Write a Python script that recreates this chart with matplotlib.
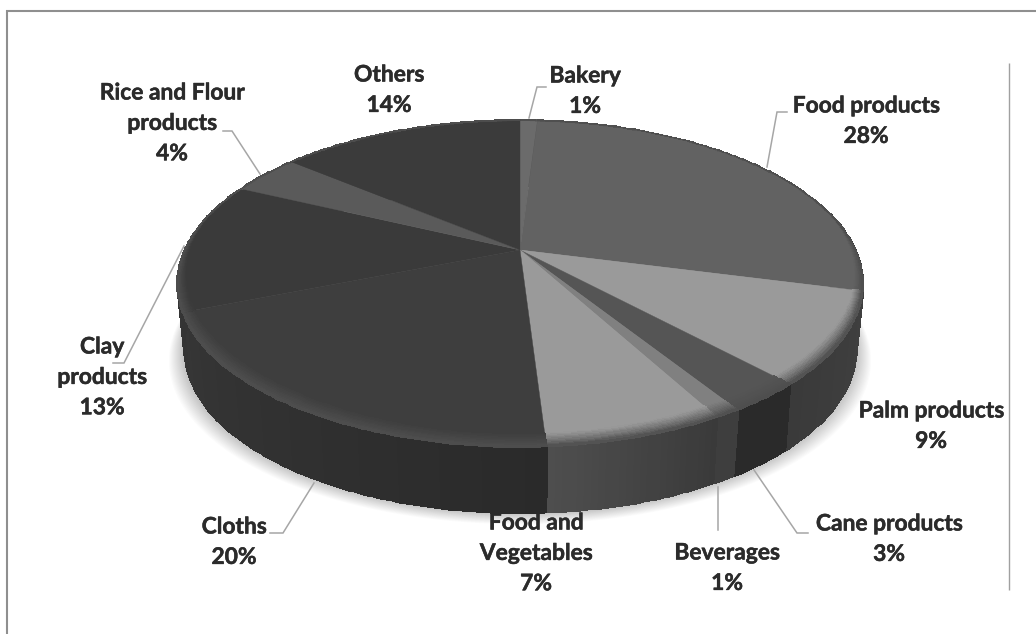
import numpy as np
import matplotlib
matplotlib.use("Agg")
import matplotlib.pyplot as plt
import matplotlib.patheffects as pe

# Share of enterprises per product group, clockwise from twelve o'clock
categories = ["Bakery", "Food products", "Palm products", "Cane products", "Beverages",
              "Food and\nVegetables", "Cloths", "Clay\nproducts",
              "Rice and Flour\nproducts", "Others"]
shares = [1, 28, 9, 3, 1, 7, 20, 13, 4, 14]

# Grey levels of each slice: upper face, then the side wall at its two ends
face_grey = [0x6b, 0x62, 0x9a, 0x55, 0x80, 0x9a, 0x3e, 0x3a, 0x5a, 0x3b]
wall_grey_start = [0x3a, 0x3a, 0x40, 0x2a, 0x3e, 0x3a, 0x2a, 0x35, 0x35, 0x35]
wall_grey_end = [0x3a, 0x3a, 0x3a, 0x2a, 0x3e, 0x4e, 0x36, 0x33, 0x35, 0x35]

# Label anchors (centre x, first-line y) and leader-line paths
label_x = [585, 866, 931, 889, 727, 536, 234, 102, 172, 389]
label_y = [76, 106, 411, 524, 553, 523, 527, 347, 93, 75]
leaders = {
    "Bakery": [(529, 118), (537, 87), (546, 87)],
    "Food products": [(767, 167), (777, 112), (787, 112)],
    "Cane products": [(754, 470), (797, 533), (808, 533)],
    "Beverages": [(718, 487), (718, 530)],
    "Cloths": [(314, 483), (283, 533), (270, 533)],
    "Clay\nproducts": [(184, 246), (124, 363), (113, 363)],
    "Rice and Flour\nproducts": [(223, 131), (232, 131), (260, 174)],
}

# Disc projection parameters
CX, CY = 520.0, 250.0
SX, SY, TILT = 335.7, 156.6, 0.205
DEPTH, FLOOR_SCALE = 66.0, 0.98


def project(theta, radius=1.0, drop=0.0, scale=1.0):
    """Perspective projection of a polar point on the disc; theta runs clockwise from north."""
    px = radius * np.sin(theta)
    py = radius * np.cos(theta)
    w = 1.0 + TILT * py
    return CX + scale * SX * px / w, CY - SY * py / w + drop


def grey(level):
    return np.array([level, level, level]) / 255.0


fig = plt.figure(figsize=(10.36, 6.34), dpi=100, facecolor="white")
ax = fig.add_axes([0, 0, 1, 1])
ax.set_xlim(0, 1036)
ax.set_ylim(634, 0)
ax.axis("off")

edges = np.radians(np.concatenate([[0], np.cumsum(shares)]) * 3.6)
circle = np.linspace(0, 2 * np.pi, 721)

# Soft drop shadow beneath the disc
for grow in np.arange(15, 0, -1):
    sx, sy = project(circle, drop=DEPTH + grow * 0.75, scale=FLOOR_SCALE + grow / 343.0)
    ax.fill(sx, sy, color="black", alpha=0.016, lw=0, zorder=1)

# Side wall
for i, start, stop in zip(range(len(shares)), edges[:-1], edges[1:]):
    th = np.linspace(start, stop, max(int(np.degrees(stop - start)), 2) + 1)
    x0, y0 = project(th)
    x1, y1 = project(th, drop=DEPTH, scale=FLOOR_SCALE)
    mix = np.linspace(0, 1, len(th) - 1)[:, None]
    rgb = (1 - mix) * grey(wall_grey_start[i]) + mix * grey(wall_grey_end[i])
    ax.pcolormesh(np.vstack([x0, x1]), np.vstack([y0, y1]), rgb[None, :, :],
                  edgecolors="face", linewidth=0.4, zorder=2)

# Upper face
for i, start, stop in zip(range(len(shares)), edges[:-1], edges[1:]):
    th = np.linspace(start, stop, max(int(np.degrees(stop - start)) * 2, 2) + 1)
    ax_x, ax_y = project(th)
    ax.fill(np.r_[CX, ax_x], np.r_[CY, ax_y], color=grey(face_grey[i]), lw=0.3, zorder=3)

# Bevelled rim, widest along the front of the disc
RIM_GREY = 0x4e
steps = np.linspace(0, 1, 11)
for i, start, stop in zip(range(len(shares)), edges[:-1], edges[1:]):
    th = np.linspace(start, stop, max(int(np.degrees(stop - start)), 2) + 1)
    width = 0.004 + 0.05 * np.clip(0.2 - np.cos(th), 0, 1)
    xs = np.array([project(th, radius=1 - width * (1 - t))[0] for t in steps])
    ys = np.array([project(th, radius=1 - width * (1 - t))[1] for t in steps])
    mix = ((steps[:-1] + steps[1:]) / 2)[:, None] ** 1.2
    band = (1 - mix) * grey(face_grey[i]) + mix * grey(RIM_GREY)
    rgb = np.repeat(band[:, None, :], len(th) - 1, axis=1)
    ax.pcolormesh(xs, ys, rgb, edgecolors="face", linewidth=0.3, zorder=4)

# Leader lines
for path in leaders.values():
    lx, ly = zip(*path)
    ax.plot(lx, ly, color="#a6a6a6", lw=1.1, solid_joinstyle="miter", zorder=5)

# Data labels, one line per row with the percentage beneath
LINE_STEP = 30.4
heavier = [pe.withStroke(linewidth=0.35, foreground="#2b2b2b")]
for name, share, x, y in zip(categories, shares, label_x, label_y):
    for row, line in enumerate(name.split("\n") + [f"{share}%"]):
        ax.text(x, y + row * LINE_STEP, line, ha="center", va="center",
                family="Lato", weight="bold", fontsize=16.4, color="#2b2b2b",
                path_effects=heavier, zorder=6)

# Panel outline
frame = dict(color="#8f8f8f", lw=1.5, solid_capstyle="butt", zorder=7)
ax.plot([7, 7], [10, 634], **frame)
ax.plot([6, 1036], [10.5, 10.5], **frame)
ax.plot([1008.5, 1008.5], [63, 590], color="#a0a0a0", lw=1.0, solid_capstyle="butt", zorder=7)

fig.savefig("out.png", dpi=100, facecolor="white")
